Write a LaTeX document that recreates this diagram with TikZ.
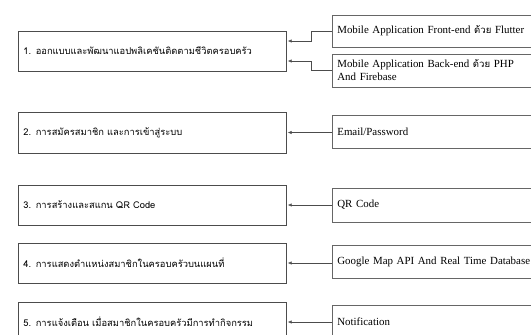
\documentclass[tikz,border=0pt]{standalone}
\usepackage{fontspec}
\setmainfont{Liberation Serif}
\newfontfamily\thaifont[Script=Thai]{Loma}
\newcommand{\thaiword}[1]{{\thaifont\fontsize{9.6}{13}\selectfont #1}}
\usetikzlibrary{positioning, arrows.meta}

\begin{document}
\begin{tikzpicture}[x=1pt, y=-1pt,
  lbox/.style={draw=black!70, line width=0.7pt, anchor=west, align=left,
    text width=258pt, inner xsep=5pt, minimum height=40pt,
    font=\thaifont\fontsize{9.35}{11}\selectfont},
  rbox/.style={draw=black!60, line width=0.7pt, anchor=west, align=left,
    text width=195pt, inner xsep=5pt, minimum height=33pt,
    font=\fontsize{10.9}{13}\selectfont},
  link/.style={draw=black!70, line width=0.6pt, -{Latex[length=4pt,width=3.5pt]}, shorten >=1pt}]
\useasboundingbox (0,0) rectangle (531,335);

\node[lbox] (l1) at (18,51) {1. ออกแบบและพัฒนาแอปพลิเคชันติดตามชีวิตครอบครัว};
\node[lbox, minimum height=41pt] (l2) at (18,132.5) {2. การสมัครสมาชิก และการเข้าสู่ระบบ};
\node[lbox] (l3) at (18,205) {3. การสร้างและสแกน QR Code};
\node[lbox] (l4) at (18,263) {4. การแสดงตำแหน่งสมาชิกในครอบครัวบนแผนที่};
\node[lbox] (l5) at (18,322) {5. การแจ้งเตือน เมื่อสมาชิกในครอบครัวมีการทำกิจกรรม};

\node[rbox, minimum height=32pt] (r1a) at (332,31) {Mobile Application Front-end \thaiword{ด้วย} Flutter};
\node[rbox] (r1b) at (332,70.5) {Mobile Application Back-end \thaiword{ด้วย} PHP\\And Firebase};
\node[rbox] (r2) at (332,131.5) {Email/Password};
\node[rbox, minimum height=34pt] (r3) at (332,205) {QR Code};
\node[rbox] (r4) at (332,261.5) {Google Map API And Real Time Database};
\node[rbox, minimum height=34pt] (r5) at (332,322) {Notification};

\draw[link] (r1a.west) -- ++(-21,0) |- ([yshift=10pt]l1.east);
\draw[link] (r1b.west) -- ++(-21,0) |- ([yshift=-10pt]l1.east);
\draw[link] (r2.west |- l2.east) -- (l2.east);
\draw[link] (r3.west |- l3.east) -- (l3.east);
\draw[link] (r4.west |- l4.east) -- (l4.east);
\draw[link] (r5.west |- l5.east) -- (l5.east);
\end{tikzpicture}
\end{document}
